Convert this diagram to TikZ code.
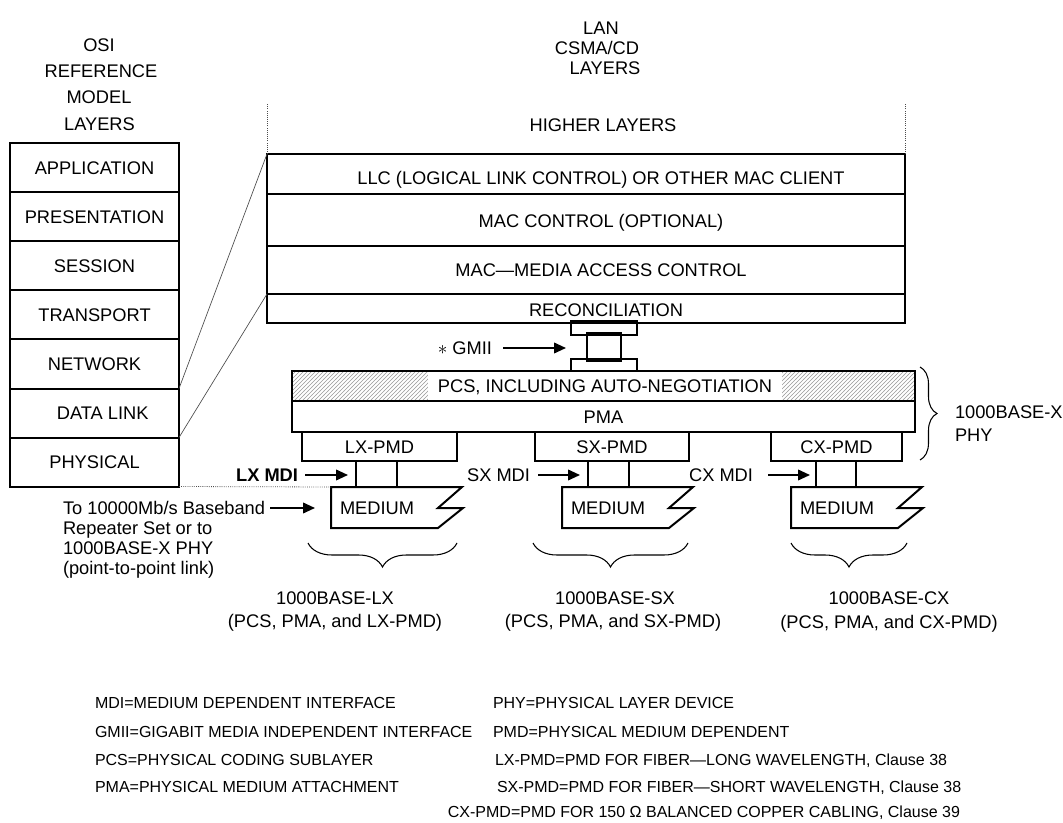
\documentclass[tikz,border=0pt]{standalone}
\usepackage{fontspec}
\setmainfont{Liberation Sans}
\usetikzlibrary{arrows.meta,patterns,calc,decorations.pathreplacing}
\newcommand\mainf{\fontsize{13.7}{16}\selectfont}
\newcommand\legf{\fontsize{12}{14}\selectfont}
\begin{document}
\begin{tikzpicture}[x=0.75pt,y=-0.75pt,
 box/.style={draw, line width=1.5pt, inner sep=0pt, outer sep=0pt, font=\mainf, text height=9.8pt, text depth=0pt},
 wh/.style 2 args={minimum width=#1*0.75pt, minimum height=#2*0.75pt},
 lbl/.style={inner sep=0pt, outer sep=0pt, font=\mainf, text height=9.8pt, text depth=0pt},
 leg/.style={inner sep=0pt, outer sep=0pt, font=\legf, text height=8.6pt, text depth=0pt, anchor=west},
 arr/.style={line width=1.3pt, -{Triangle[length=9pt,width=8pt]}},
 thinln/.style={gray!60!black, line width=0.5pt},
 dots/.style={densely dotted, line width=0.6pt, gray!60!black},
 brcbig/.style={decorate, decoration={brace, amplitude=18pt}, line width=0.8pt},
 brcside/.style={decorate, decoration={brace, amplitude=12.75pt}, line width=0.8pt}
]
\fill[white] (0,0) rectangle (1063,823);
\useasboundingbox (0,0) rectangle (1063,823);

% OSI column
\node[lbl] (osi1) at (99,45) {OSI};
\node[lbl] (osi2) at (101,71) {REFERENCE};
\node[lbl] (osi3) at (99,97) {MODEL};
\node[lbl] (osi4) at (99.5,124) {LAYERS};
\node[box, wh={169}{49}] (app) at (94.5,168) {APPLICATION};
\node[box, wh={169}{49}] (pres) at (94.5,217) {PRESENTATION};
\node[box, wh={169}{49}] (sess) at (94.5,266) {SESSION};
\node[box, wh={169}{49}] (trans) at (94.5,315) {TRANSPORT};
\node[box, wh={169}{49}] (net) at (94.5,364) {NETWORK};
\node[box, wh={169}{49}] (dl) at (94.5,413) {\hspace*{0.9em}DATA LINK};
\node[box, wh={169}{49}] (phys) at (94.5,462) {PHYSICAL};

% LAN labels
\node[lbl] (lan1) at (601,28) {LAN};
\node[lbl] (lan2) at (597,48) {CSMA/CD};
\node[lbl] (lan3) at (605,68) {LAYERS};
\node[lbl] (higher) at (603,125) {HIGHER LAYERS};

% LAN stack
\node[box, wh={638}{40}] (llc) at (586,174) {};
\node[box, wh={638}{52}] (macc) at (586,220) {};
\node[box, wh={638}{48}] (mac) at (586,270) {};
\node[box, wh={638}{29}] (recon) at (586,308.5) {};
\node[lbl] (llct) at ($(llc)+(15,4)$) {LLC (LOGICAL LINK CONTROL) OR OTHER MAC CLIENT};
\node[lbl] (macct) at ($(macc)+(15,1)$) {MAC CONTROL (OPTIONAL)};
\node[lbl] (mact) at ($(mac)+(15,0)$) {MAC—MEDIA ACCESS CONTROL};
\node[lbl] (recont) at ($(recon)+(20,1)$) {RECONCILIATION};
\draw[dots] (llc.north west) -- ++(0,-51);
\draw[dots] (llc.north east) -- ++(0,-51);
\draw[thinln] (net.south east) -- (llc.north west);
\draw[thinln] (dl.south east) -- (recon.north west);

% GMII
\node[box, wh={66}{10}] (gtop) at (604,328) {};
\node[box, wh={34}{28}] (gstem) at (604,347) {};
\node[box, wh={66}{10}] (gbot) at (604,366) {};
\node[lbl, anchor=east] (glab) at (492,348) {$\ast$ GMII};
\draw[arr] ($(glab.east)+(11,0)$) -- ($(gtop.west |- glab.east)+(-5,0)$);

% PCS / PMA
\node[draw, line width=1.5pt, pattern=north east lines, pattern color=gray!80, inner sep=0pt, outer sep=0pt, wh={623}{30}] (pcs) at (603.5,386) {};
\node[lbl, fill=white, minimum height=28*0.75pt, inner xsep=7.5pt] (pcstext) at (605,386) {PCS, INCLUDING AUTO-NEGOTIATION};
\draw[line width=1.5pt] (pcs.north west) rectangle (pcs.south east);
\node[box, wh={623}{31}] (pma) at (603.5,416.5) {PMA};

% PMDs
\node[box, wh={155}{29}] (lxpmd) at (379.5,446.5) {LX-PMD};
\node[box, wh={154}{29}] (sxpmd) at (612,446.5) {SX-PMD};
\node[box, wh={131}{29}] (cxpmd) at (836.5,446.5) {CX-PMD};

% MDI connectors
\node[box, wh={41}{26}] (lxmdi) at (376.5,474) {};
\node[box, wh={41}{26}] (sxmdi) at (608.5,474) {};
\node[box, wh={40}{26}] (cxmdi) at (836,474) {};

% media
\foreach \L/\n in {331/lx, 562/sx, 791/cx}{
  \draw[line width=1.5pt, line join=miter] (\L,487) -- ++(131,0) -- ++(-24,21) -- ++(25,0) -- ++(-25,20) -- (\L,528) -- cycle;
  \node[lbl, anchor=west] (med\n) at (\L+9,508) {MEDIUM};
}
\coordinate (lxmedtl) at (331,487);
\draw[dots] (phys.south east) -- (lxmedtl);

% MDI labels and arrows
\node[lbl, anchor=east, font=\mainf\bfseries] (lxlab) at (298,475) {LX MDI};
\draw[arr] ($(lxlab.east)+(7,0)$) -- ($(lxmdi.west |- lxlab.east)+(-8,0)$);
\node[lbl, anchor=east] (sxlab) at (530,475) {SX MDI};
\draw[arr] ($(sxlab.east)+(8,0)$) -- ($(sxmdi.west |- sxlab.east)+(-8,0)$);
\node[lbl, anchor=east] (cxlab) at (753,475) {CX MDI};
\draw[arr] ($(cxlab.east)+(15,0)$) -- ($(cxmdi.west |- cxlab.east)+(-6,0)$);

% baseband note
\node[lbl, anchor=west] (b1) at (63,508) {To 10000Mb/s Baseband};
\node[lbl, anchor=west] (b2) at (63,528) {Repeater Set or to};
\node[lbl, anchor=west] (b3) at (63,548) {1000BASE-X PHY};
\node[lbl, anchor=west] (b4) at (63,568) {(point-to-point link)};
\draw[arr] ($(b1.east)+(5,0)$) -- ($(lxmedtl |- b1.east)+(-16,0)$);

% braces
\draw[brcbig] (457,543) -- (308,543);
\draw[brcbig] (688,543) -- (533,543);
\draw[brcbig] (907,543) -- (791,543);
\draw[brcside] (920,367) -- (920,460);
\node[lbl, anchor=west] (phyx1) at (955,412) {1000BASE-X};
\node[lbl, anchor=west] (phyx2) at (955,435) {PHY};

% bottom labels
\node[lbl] (lx1) at (335,598) {1000BASE-LX};
\node[lbl] (lx2) at (335,621) {(PCS, PMA, and LX-PMD)};
\node[lbl] (sx1) at (615,598) {1000BASE-SX};
\node[lbl] (sx2) at (613,621) {(PCS, PMA, and SX-PMD)};
\node[lbl] (cx1) at (889,598) {1000BASE-CX};
\node[lbl] (cx2) at (889,622) {(PCS, PMA, and CX-PMD)};

% legend
\node[leg] (g1) at (95,703) {MDI=MEDIUM DEPENDENT INTERFACE};
\node[leg] (g2) at (95,732) {GMII=GIGABIT MEDIA INDEPENDENT INTERFACE};
\node[leg] (g3) at (95,760) {PCS=PHYSICAL CODING SUBLAYER};
\node[leg] (g4) at (95,787) {PMA=PHYSICAL MEDIUM ATTACHMENT};
\node[leg] (g5) at (493,703) {PHY=PHYSICAL LAYER DEVICE};
\node[leg] (g6) at (493,732) {PMD=PHYSICAL MEDIUM DEPENDENT};
\node[leg] (g7) at (495,760) {LX-PMD=PMD FOR FIBER—LONG WAVELENGTH, Clause 38};
\node[leg] (g8) at (497,787) {SX-PMD=PMD FOR FIBER—SHORT WAVELENGTH, Clause 38};
\node[leg, anchor=east] (g9) at (960,812) {CX-PMD=PMD FOR 150 Ω BALANCED COPPER CABLING, Clause 39};
\end{tikzpicture}
\end{document}
